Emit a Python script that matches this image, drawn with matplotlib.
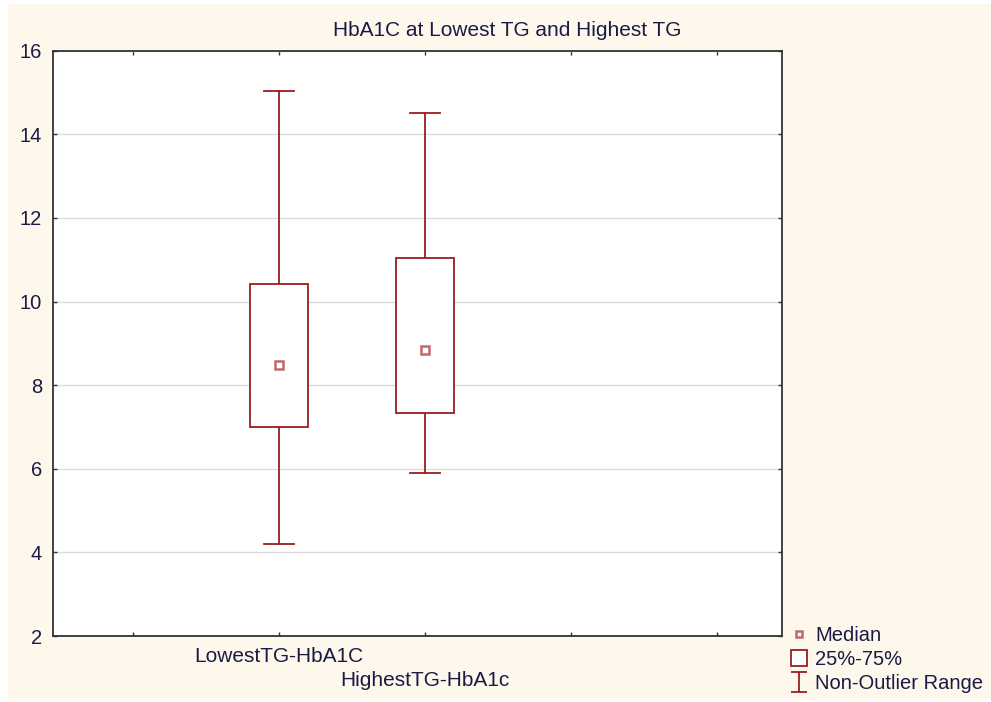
import matplotlib
matplotlib.use("Agg")
import matplotlib.pyplot as plt
from matplotlib.lines import Line2D
from matplotlib.patches import Rectangle
from matplotlib.path import Path

categories = ["LowestTG-HbA1C", "HighestTG-HbA1c"]
positions = [2, 3]
medians = [8.48, 8.84]
q1 = [7.0, 7.34]
q3 = [10.41, 11.04]
wlow = [4.2, 5.9]
whigh = [15.03, 14.5]

title = "HbA1C at Lowest TG and Highest TG"
yticks = [2, 4, 6, 8, 10, 12, 14, 16]

plt.rcParams['font.family'] = ['Liberation Sans', 'DejaVu Sans']
W, H = 991, 702
fig = plt.figure(figsize=(W / 100, H / 100), dpi=100)
fig.patch.set_facecolor('white')
fig.patches.append(Rectangle((8 / W, 3 / H), 1 - 8 / W, 1 - 7 / H, transform=fig.transFigure,
                             facecolor='#FEF8EC', edgecolor='none', zorder=-10))

ax = fig.add_axes([53 / W, 1 - 636 / H, (782 - 53) / W, (636 - 50.7) / H])
ax.set_facecolor('white')

red = '#9A1E1E'
med_c = '#C06A6A'
txt = '#1A1A45'
box_w = 0.40
cap_w = 0.205

for p, m, a, b, lo, hi in zip(positions, medians, q1, q3, wlow, whigh):
    ax.add_patch(Rectangle((p - box_w / 2, a), box_w, b - a, facecolor='white',
                           edgecolor=red, lw=1.3, zorder=3))
    ax.plot([p, p], [b, hi], color=red, lw=1.3, zorder=2)
    ax.plot([p, p], [lo, a], color=red, lw=1.3, zorder=2)
    ax.plot([p - cap_w / 2, p + cap_w / 2], [hi, hi], color=red, lw=1.3, zorder=2)
    ax.plot([p - cap_w / 2, p + cap_w / 2], [lo, lo], color=red, lw=1.3, zorder=2)
    ax.plot([p], [m], marker='s', ms=6, mfc='white', mec=med_c, mew=1.8, ls='none', zorder=4)

ax.set_xlim(0.452, 5.445)
ax.set_ylim(2, 16)
ax.set_yticks(yticks)
ax.set_xticks([1, 2, 3, 4, 5])
ax.set_xticklabels([])
ax.grid(axis='y', color='#DCDCDC', lw=1.0, zorder=0)
ax.set_axisbelow(True)
ax.tick_params(axis='both', direction='in', length=3, width=1, color='#333333',
               top=True, right=True, labelsize=14.5, labelcolor=txt)
ax.tick_params(axis='y', pad=8)
for s in ax.spines.values():
    s.set_color('#333333')
    s.set_linewidth(1.3)

# staggered category labels (pixel centers at y=657 and y=680)
for i, (p, lab) in enumerate(zip(positions, categories)):
    ax.annotate(lab, xy=(p, 0), xycoords=('data', 'axes fraction'),
                xytext=(0, -(21 + 23 * i) * 0.72), textcoords='offset points',
                ha='center', va='center', fontsize=15, color=txt)

fig.text(507.5 / W, 1 - 30 / H, title, ha='center', va='center', fontsize=15, color=txt)

ipath = Path([(-0.85, -1), (0.85, -1), (0, -1), (0, 1), (-0.85, 1), (0.85, 1)],
             [Path.MOVETO, Path.LINETO, Path.MOVETO, Path.LINETO, Path.MOVETO, Path.LINETO])
handles = [
    Line2D([], [], marker='s', ms=5, mfc='white', mec=med_c, mew=1.8, ls='none'),
    Line2D([], [], marker='s', ms=12, mfc='white', mec=red, mew=1.3, ls='none'),
    Line2D([], [], marker=ipath, ms=14, mfc='none', mec=red, mew=1.3, ls='none'),
]
fig.legend(handles, ['Median', '25%-75%', 'Non-Outlier Range'], loc='upper left',
           bbox_to_anchor=(792 / W, 1 - 626 / H), frameon=False, fontsize=14.5,
           labelcolor=txt, handlelength=0.7, handletextpad=0.45, labelspacing=0.25,
           borderaxespad=0, borderpad=0)

fig.savefig('out.png', dpi=100, facecolor=fig.get_facecolor())
